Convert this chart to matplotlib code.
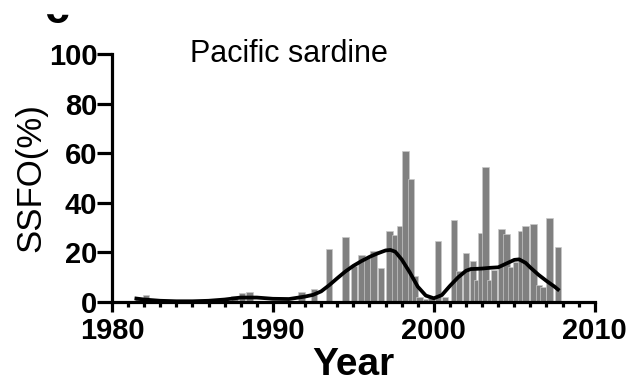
import matplotlib
matplotlib.use("Agg")
import matplotlib.pyplot as plt
from matplotlib.patches import Rectangle

# Bars: survey time (decimal year) and SSFO (%)
bar_years = [1981.65, 1982.1, 1987.6, 1988.07, 1988.55, 1991.78, 1992.55,
             1993.5, 1994.5, 1995.05, 1995.5, 1995.85, 1996.25, 1996.72,
             1997.25, 1997.58, 1997.92, 1998.25, 1998.58, 1998.83, 1999.12,
             1999.5, 1999.85, 2000.25, 2000.68, 2001.25, 2001.58, 2002.0,
             2002.45, 2002.72, 2002.92, 2003.2, 2003.5, 2003.75, 2004.2,
             2004.52, 2004.82, 2005.12, 2005.42, 2005.7, 2006.2, 2006.52,
             2006.78, 2007.2, 2007.7]
bar_values = [1.7, 2.8, 2.4, 3.6, 3.9, 4.0, 5.4,
              21.3, 26.1, 14.7, 19.1, 18.0, 20.5, 13.7,
              28.8, 27.0, 30.7, 61.0, 49.6, 10.6, 2.0,
              1.2, 1.5, 24.5, 2.0, 33.0, 12.5, 19.6,
              16.5, 9.0, 27.8, 54.4, 9.0, 13.0, 29.6,
              27.4, 14.0, 16.0, 28.8, 30.6, 31.6, 7.0,
              6.0, 33.7, 22.0]

# Smoothed trend
trend_years = [1981.4, 1982, 1983, 1984, 1985, 1986, 1987, 1988, 1989, 1990,
               1991, 1992, 1992.5, 1993, 1993.5, 1994, 1994.5, 1995, 1995.5,
               1996, 1996.5, 1997, 1997.3, 1997.6, 1998, 1998.5, 1999, 1999.5,
               2000, 2000.5, 2001, 2001.5, 2002, 2002.3, 2002.7, 2003, 2003.5,
               2004, 2004.5, 2005, 2005.3, 2005.7, 2006, 2006.5, 2007, 2007.5,
               2007.8]
trend_values = [1.5, 1.0, 0.5, 0.3, 0.3, 0.5, 1.0, 1.8, 1.8, 1.3,
                1.2, 2.2, 2.9, 4.3, 6.8, 9.6, 12.3, 14.6, 16.5,
                18.2, 19.6, 20.8, 21.0, 20.3, 17.2, 12.0, 6.2, 2.6,
                1.5, 2.8, 6.5, 9.9, 12.6, 13.3, 13.4, 13.5, 13.8,
                14.0, 15.5, 17.0, 17.2, 15.8, 13.9, 11.0, 8.5, 6.2,
                4.6]

fonts = ['Liberation Sans', 'DejaVu Sans']

fig = plt.figure(figsize=(6.27, 3.91), dpi=100)
ax = fig.add_axes([0.1786, 0.2276, 0.770, 0.634])

ax.bar(bar_years, bar_values, width=0.4, color='#808080',
       edgecolor='#c8c8c8', linewidth=0.5, zorder=2)
ax.plot(trend_years, trend_values, color='black', lw=2.7, zorder=3,
        solid_capstyle='butt')

ax.set_xlim(1980, 2010)
ax.set_ylim(0, 100)
ax.set_xticks([1980, 1990, 2000, 2010])
ax.set_xticks(range(1980, 2011), minor=True)
ax.set_yticks([0, 20, 40, 60, 80, 100])

for s in ['top', 'right']:
    ax.spines[s].set_visible(False)
for s in ['left', 'bottom']:
    ax.spines[s].set_linewidth(2.3)
    ax.spines[s].set_capstyle('projecting')

ax.tick_params(axis='x', which='major', length=7, width=2.3, pad=4)
ax.tick_params(axis='x', which='minor', length=3.5, width=2.3)
ax.tick_params(axis='y', which='major', length=10.5, width=2.3, pad=0)

for lab in ax.get_xticklabels() + ax.get_yticklabels():
    lab.set_family(fonts)
    lab.set_fontweight('bold')
    lab.set_fontsize(21)

ax.set_xlabel('Year', family=fonts, fontweight='bold', fontsize=28,
              labelpad=1)
ax.set_ylabel('SSFO(%)', family=fonts, fontsize=25, labelpad=1)

ax.text(0.161, 1.0, 'Pacific sardine', transform=ax.transAxes,
        family=fonts, fontsize=22, ha='left', va='center')

# panel letter, cut off at the top of the picture
fig.text(44 / 627, 1 - 23 / 391, 'c', family=fonts, fontweight='bold',
         fontsize=32, ha='left', va='baseline')
fig.patches.append(Rectangle((0, 1 - 13 / 391), 0.3, 13 / 391,
                             transform=fig.transFigure, color='white',
                             zorder=10))

fig.savefig('out.png', dpi=100)
